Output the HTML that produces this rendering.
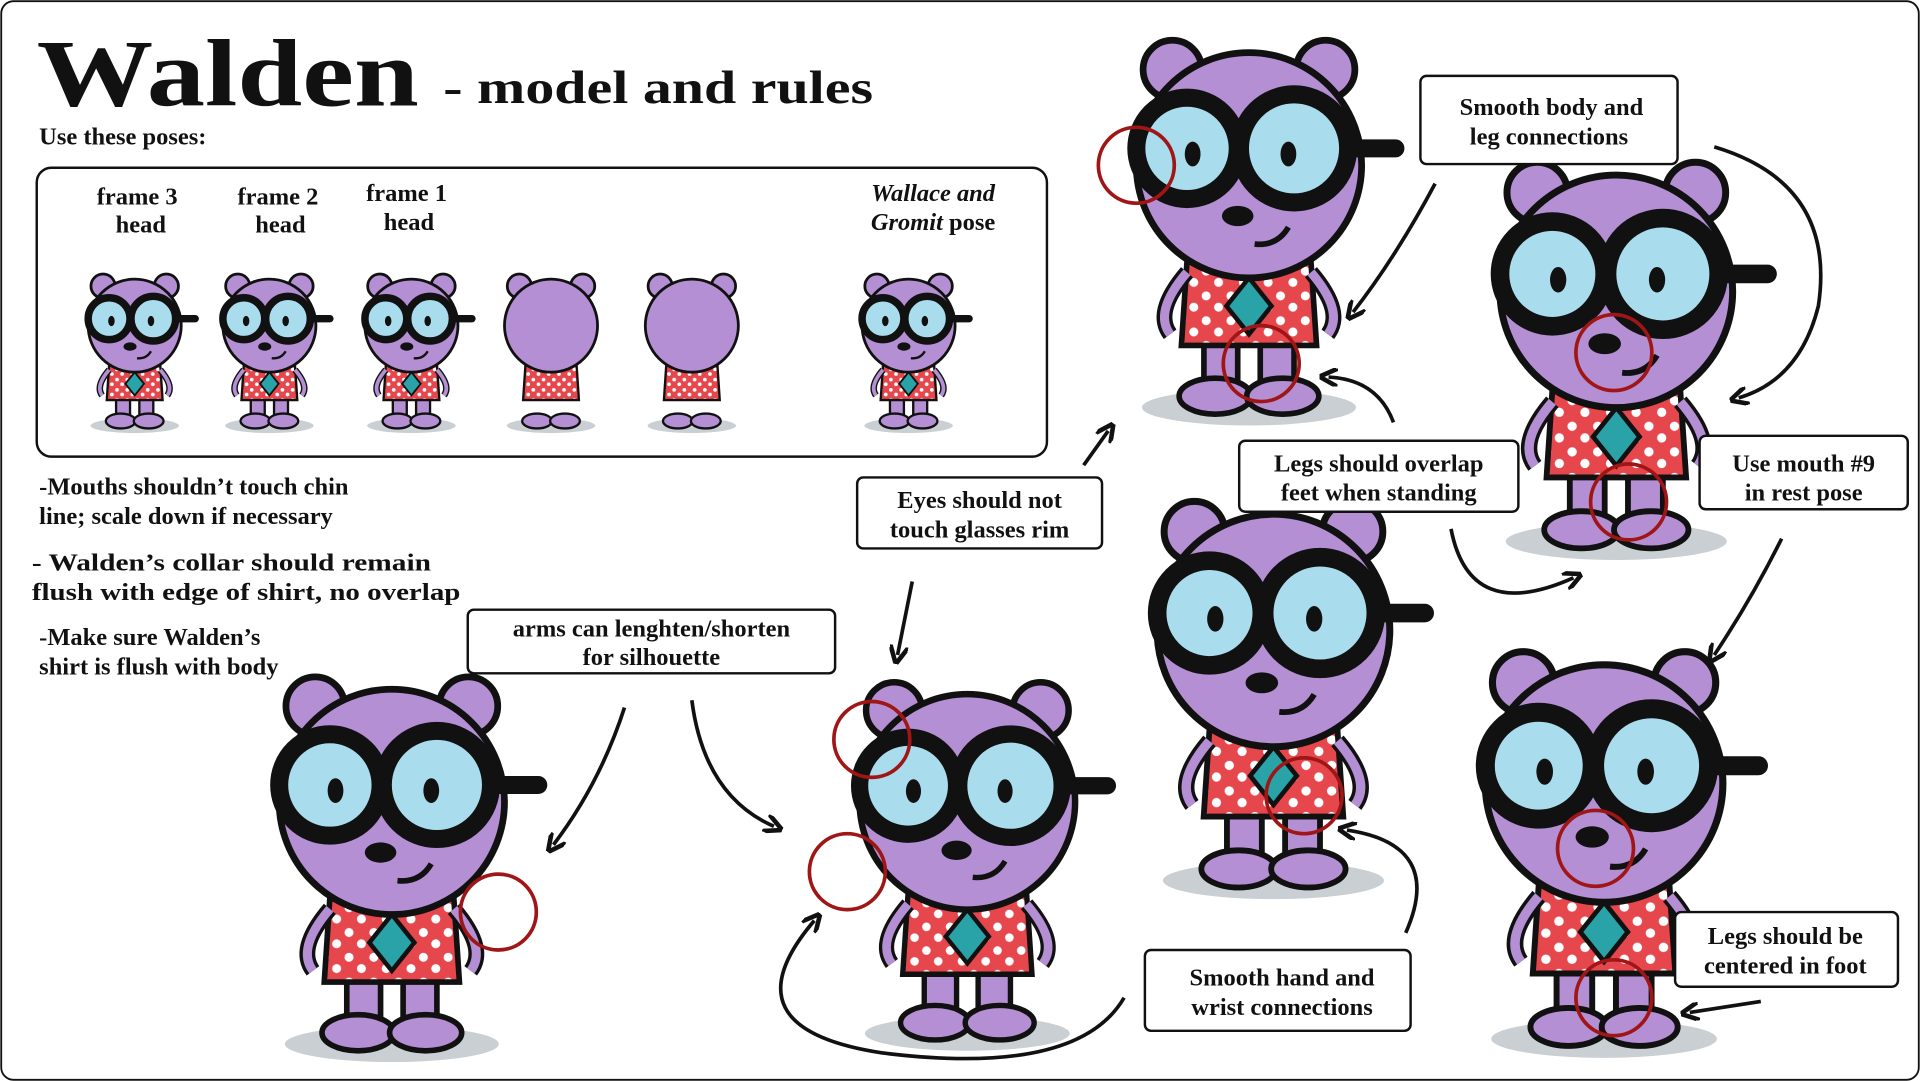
<!DOCTYPE html>
<html><head><meta charset="utf-8"><style>
html,body{margin:0;padding:0;background:#fff}
svg{display:block}
text{font-family:"Liberation Serif",serif;font-weight:bold;fill:#111}
</style></head><body>
<svg width="1920" height="1081" viewBox="0 0 1568 883" preserveAspectRatio="none" xmlns="http://www.w3.org/2000/svg">
<defs>
<marker id="ah" viewBox="0 0 10 10" refX="5" refY="5" markerWidth="5" markerHeight="5" orient="auto-start-reverse">
<path d="M0,0 L10,5 L0,10" fill="none" stroke="#111" stroke-width="2.5"/>
</marker>
<pattern id="dots" width="22" height="22" patternUnits="userSpaceOnUse">
<rect width="22" height="22" fill="#e5474d"/><circle cx="6" cy="6" r="4" fill="#fff"/><circle cx="17" cy="16" r="4" fill="#fff"/>
</pattern>
<g id="w">
<ellipse cx="0" cy="215" rx="95" ry="16" fill="#c9cfd2"/>
<circle cx="-68" cy="-85" r="26" fill="#b48fd3" stroke="#111" stroke-width="6"/>
<circle cx="68" cy="-85" r="26" fill="#b48fd3" stroke="#111" stroke-width="6"/>
<rect x="-40" y="150" width="30" height="50" fill="#b48fd3" stroke="#111" stroke-width="5"/>
<rect x="10" y="150" width="30" height="50" fill="#b48fd3" stroke="#111" stroke-width="5"/>
<ellipse cx="-30" cy="205" rx="32" ry="16" fill="#b48fd3" stroke="#111" stroke-width="5"/>
<ellipse cx="30" cy="205" rx="32" ry="16" fill="#b48fd3" stroke="#111" stroke-width="5"/>
<path d="M-55,85 L55,85 L60,160 L-60,160 Z" fill="url(#dots)" stroke="#111" stroke-width="5"/>
<path d="M0,100 L20,125 L0,150 L-20,125 Z" fill="#2aa3a8" stroke="#111" stroke-width="4"/>
<path d="M-55,95 Q-85,130 -70,150" fill="none" stroke="#111" stroke-width="14"/>
<path d="M-55,95 Q-85,130 -70,150" fill="none" stroke="#b48fd3" stroke-width="8"/>
<path d="M55,95 Q85,130 70,150" fill="none" stroke="#111" stroke-width="14"/>
<path d="M55,95 Q85,130 70,150" fill="none" stroke="#b48fd3" stroke-width="8"/>
<circle cx="0" cy="0" r="100" fill="#b48fd3" stroke="#111" stroke-width="6"/>
<line x1="80" y1="-15" x2="130" y2="-15" stroke="#111" stroke-width="16" stroke-linecap="round"/>
<circle cx="-55" cy="-15" r="45" fill="#a9dcec" stroke="#111" stroke-width="16"/>
<circle cx="40" cy="-15" r="48" fill="#a9dcec" stroke="#111" stroke-width="16"/>
<ellipse cx="-50" cy="-10" rx="7" ry="11" fill="#111"/>
<ellipse cx="35" cy="-10" rx="7" ry="11" fill="#111"/>
<ellipse cx="-10" cy="45" rx="14" ry="9" fill="#111"/>
<path d="M5,70 Q25,72 35,55" fill="none" stroke="#111" stroke-width="5"/>
</g>
</defs>
<rect x="1" y="1" width="1566" height="881" rx="10" fill="#fff" stroke="#111" stroke-width="1.5"/>
<text x="30" y="86" font-size="78" textLength="312" lengthAdjust="spacingAndGlyphs">Walden</text>
<text x="362" y="84" font-size="38" textLength="351" lengthAdjust="spacingAndGlyphs">- model and rules</text>
<text x="32" y="118" font-size="20">Use these poses:</text>
<rect x="30" y="137" width="825" height="236" rx="12" fill="none" stroke="#111" stroke-width="2"/>
<g font-size="20" text-anchor="middle">
<text x="112" y="167">frame 3</text><text x="115" y="190">head</text>
<text x="227" y="167">frame 2</text><text x="229" y="190">head</text>
<text x="332" y="164">frame 1</text><text x="334" y="188">head</text>
<text x="762" y="164" font-style="italic">Wallace and</text><text x="762" y="188"><tspan font-style="italic">Gromit</tspan> pose</text>
</g>
<use href="#w" transform="translate(110,266) scale(0.38)"/>
<use href="#w" transform="translate(220,266) scale(0.38)"/>
<use href="#w" transform="translate(336,266) scale(0.38)"/>
<g transform="translate(450,266) scale(0.38)"><ellipse cx="0" cy="215" rx="95" ry="16" fill="#c9cfd2"/><path d="M-55,85 L55,85 L60,160 L-60,160 Z" fill="url(#dots)" stroke="#111" stroke-width="5"/><ellipse cx="-30" cy="205" rx="32" ry="16" fill="#b48fd3" stroke="#111" stroke-width="5"/><ellipse cx="30" cy="205" rx="32" ry="16" fill="#b48fd3" stroke="#111" stroke-width="5"/><circle cx="-68" cy="-85" r="26" fill="#b48fd3" stroke="#111" stroke-width="6"/><circle cx="68" cy="-85" r="26" fill="#b48fd3" stroke="#111" stroke-width="6"/><circle r="100" fill="#b48fd3" stroke="#111" stroke-width="6"/></g>
<g transform="translate(565,266) scale(0.38)"><ellipse cx="0" cy="215" rx="95" ry="16" fill="#c9cfd2"/><path d="M-55,85 L55,85 L60,160 L-60,160 Z" fill="url(#dots)" stroke="#111" stroke-width="5"/><ellipse cx="-30" cy="205" rx="32" ry="16" fill="#b48fd3" stroke="#111" stroke-width="5"/><ellipse cx="30" cy="205" rx="32" ry="16" fill="#b48fd3" stroke="#111" stroke-width="5"/><circle cx="-68" cy="-85" r="26" fill="#b48fd3" stroke="#111" stroke-width="6"/><circle cx="68" cy="-85" r="26" fill="#b48fd3" stroke="#111" stroke-width="6"/><circle r="100" fill="#b48fd3" stroke="#111" stroke-width="6"/></g>
<use href="#w" transform="translate(742,266) scale(0.38)"/>
<g font-size="20">
<text x="32" y="404">-Mouths shouldn’t touch chin</text>
<text x="32" y="428">line; scale down if necessary</text>
<text x="26" y="466" textLength="326" lengthAdjust="spacingAndGlyphs">- Walden’s collar should  remain</text>
<text x="26" y="490" textLength="350" lengthAdjust="spacingAndGlyphs">flush with edge of shirt, no overlap</text>
<text x="32" y="527">-Make sure Walden’s</text>
<text x="32" y="551">shirt is flush with body</text>
</g>
<use href="#w" transform="translate(1020,135) scale(0.92)"/>
<use href="#w" transform="translate(1320,238) scale(0.95)"/>
<use href="#w" transform="translate(1040,515) scale(0.95)"/>
<use href="#w" transform="translate(1310,640) scale(0.97)"/>
<use href="#w" transform="translate(790,655) scale(0.88)"/>
<use href="#w" transform="translate(320,655) scale(0.92)"/>
<g fill="none" stroke="#a01515" stroke-width="3">
<circle cx="928" cy="135" r="31"/><circle cx="1030" cy="297" r="31"/>
<circle cx="1318" cy="288" r="31"/><circle cx="1330" cy="410" r="31"/>
<circle cx="712" cy="604" r="31"/><circle cx="692" cy="712" r="31"/>
<circle cx="1065" cy="650" r="31"/><circle cx="407" cy="745" r="31"/>
<circle cx="1303" cy="693" r="31"/><circle cx="1318" cy="815" r="31"/>
</g>
<g fill="#fff" stroke="#111" stroke-width="2">
<rect x="700" y="390" width="200" height="58" rx="5"/>
<rect x="382" y="498" width="300" height="52" rx="5"/>
<rect x="1160" y="62" width="210" height="72" rx="5"/>
<rect x="1012" y="360" width="228" height="58" rx="5"/>
<rect x="1388" y="356" width="170" height="60" rx="5"/>
<rect x="1368" y="745" width="182" height="61" rx="5"/>
<rect x="935" y="776" width="217" height="66" rx="5"/>
</g>
<g font-size="20" text-anchor="middle">
<text x="800" y="415">Eyes should not</text><text x="800" y="439">touch glasses rim</text>
<text x="532" y="520">arms can lenghten/shorten</text><text x="532" y="543">for silhouette</text>
<text x="1267" y="94">Smooth body and</text><text x="1265" y="118">leg connections</text>
<text x="1126" y="385">Legs should overlap</text><text x="1126" y="409">feet when standing</text>
<text x="1473" y="385">Use  mouth #9</text><text x="1473" y="409">in rest pose</text>
<text x="1458" y="771">Legs should be</text><text x="1458" y="795">centered in foot</text>
<text x="1047" y="805">Smooth hand and</text><text x="1047" y="829">wrist connections</text>
</g>
<g fill="none" stroke="#111" stroke-width="3" marker-end="url(#ah)">
<path d="M1172,150 Q1140,210 1105,255"/>
<path d="M1400,120 Q1500,150 1485,250 Q1470,310 1420,325"/>
<path d="M1138,345 Q1125,310 1085,308"/>
<path d="M885,380 L905,352"/>
<path d="M745,475 L733,535"/>
<path d="M510,578 Q490,640 452,690"/>
<path d="M565,572 Q575,650 632,675"/>
<path d="M918,815 Q880,880 720,860 Q590,840 665,752"/>
<path d="M1148,762 Q1180,690 1100,678"/>
<path d="M1185,432 Q1200,510 1285,472"/>
<path d="M1455,440 Q1430,490 1400,535"/>
<path d="M1438,818 L1380,827"/>
</g>
</svg>
</body></html>
